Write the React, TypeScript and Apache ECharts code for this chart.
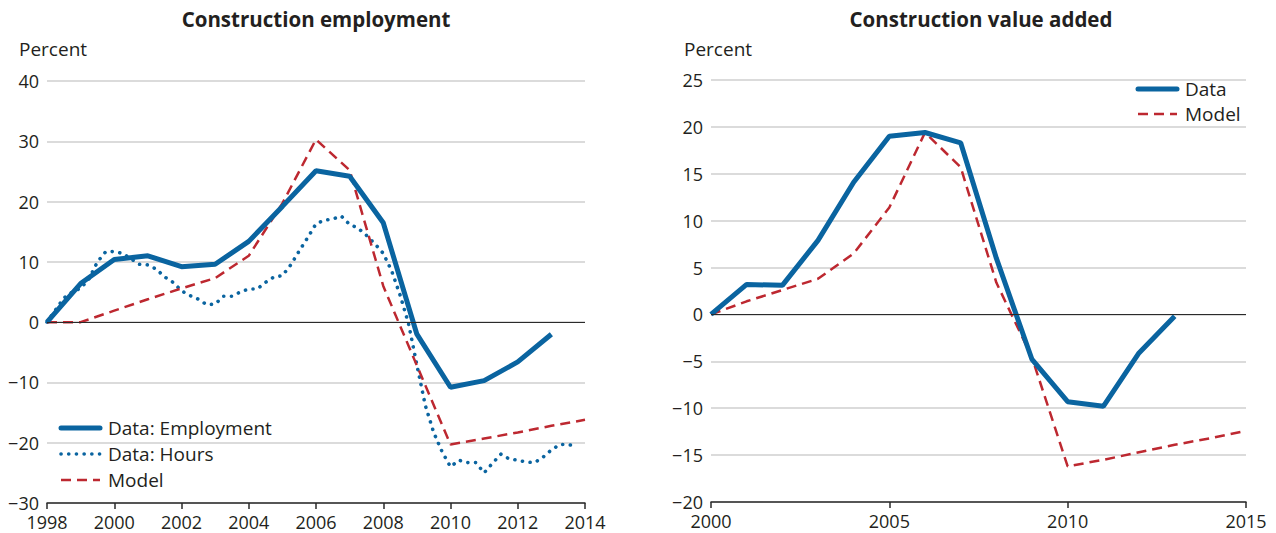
import React, { useEffect, useRef } from "react";
import * as echarts from "echarts";

// ---- Left panel: Construction employment ----
const empYears = [1998, 1999, 2000, 2001, 2002, 2003, 2004, 2005, 2006, 2007, 2008, 2009, 2010, 2011, 2012, 2013];
const employment = [0, 6.4, 10.4, 11.0, 9.2, 9.6, 13.4, 19.2, 25.1, 24.2, 16.5, -2.0, -10.8, -9.7, -6.6, -2.0];

const hoursQuarters = [
  "1998Q1", "1998Q2", "1998Q3", "1998Q4", "1999Q1", "1999Q2", "1999Q3", "1999Q4",
  "2000Q1", "2000Q2", "2000Q3", "2000Q4", "2001Q1", "2001Q2", "2001Q3", "2001Q4",
  "2002Q1", "2002Q2", "2002Q3", "2002Q4", "2003Q1", "2003Q2", "2003Q3", "2003Q4",
  "2004Q1", "2004Q2", "2004Q3", "2004Q4", "2005Q1", "2005Q2", "2005Q3", "2005Q4",
  "2006Q1", "2006Q2", "2006Q3", "2006Q4", "2007Q1", "2007Q2", "2007Q3", "2007Q4",
  "2008Q1", "2008Q2", "2008Q3", "2008Q4", "2009Q1", "2009Q2", "2009Q3", "2009Q4",
  "2010Q1", "2010Q2", "2010Q3", "2010Q4", "2011Q1", "2011Q2", "2011Q3", "2011Q4",
  "2012Q1", "2012Q2", "2012Q3", "2012Q4", "2013Q1", "2013Q2", "2013Q3", "2013Q4",
];
const hours = [
  0, 2.0, 4.0, 5.0, 5.6, 7.2, 10.0, 11.7,
  11.7, 11.4, 10.5, 9.6, 9.5, 8.8, 7.5, 6.6,
  5.2, 4.4, 3.8, 2.9, 3.0, 4.3, 4.3, 5.0,
  5.5, 5.5, 6.6, 7.5, 7.7, 9.5, 11.8, 14.0,
  16.3, 16.9, 17.1, 17.6, 16.2, 15.6, 14.4, 13.0,
  11.4, 8.5, 4.5, -0.2, -7.1, -13.8, -18.3, -21.5,
  -24.0, -22.9, -23.3, -23.3, -25.0, -23.4, -21.9, -22.7,
  -22.9, -23.2, -23.3, -22.4, -21.2, -20.3, -20.3, -20.6,
];

const modelLeftYears = [1998, 1999, 2000, 2001, 2002, 2003, 2004, 2005, 2006, 2007, 2008, 2009, 2010, 2011, 2012, 2013, 2014];
const modelLeft = [0, 0, 1.9, 3.8, 5.6, 7.3, 11.0, 19.7, 30.3, 25.2, 6.0, -7.2, -20.3, -19.3, -18.3, -17.2, -16.2];

const leftYTicks = { min: -30, max: 40, interval: 10 };
const leftXTicks = { min: 1998, max: 2014, interval: 2 };

// ---- Right panel: Construction value added ----
const vaYears = [2000, 2001, 2002, 2003, 2004, 2005, 2006, 2007, 2008, 2009, 2010, 2011, 2012, 2013];
const vaData = [0, 3.2, 3.1, 7.9, 14.1, 19.0, 19.4, 18.3, 6.0, -4.8, -9.3, -9.8, -4.1, -0.2];

const vaModelYears = [2000, 2001, 2002, 2003, 2004, 2005, 2006, 2007, 2008, 2009, 2010, 2011, 2012, 2013, 2014, 2015];
const vaModel = [0, 1.4, 2.6, 3.8, 6.5, 11.4, 19.4, 15.7, 3.4, -4.6, -16.2, -15.5, -14.7, -13.9, -13.2, -12.4];

const rightYTicks = { min: -20, max: 25, interval: 5 };
const rightXTicks = { min: 2000, max: 2015, interval: 5 };

const titles = ["Construction employment", "Construction value added"];
const unitLabel = "Percent";
const leftLegend = ["Data: Employment", "Data: Hours", "Model"];
const rightLegend = ["Data", "Model"];

const BLUE = "#0a64a0";
const RED = "#bd2830";
const TEXT = "#231f20";
const GRID = "#cfcfcf";
const FONT = "'Open Sans', sans-serif";
const FS = 19;
const AXFS = 18;

const quarterToX = (q: string) => {
  const y = parseInt(q.slice(0, 4), 10);
  const n = parseInt(q.slice(5), 10);
  return y + (n - 1) / 4;
};

const solidStyle = { stroke: BLUE, lineWidth: 5, lineCap: "round" };
const dottedStyle = { stroke: BLUE, lineWidth: 3.6, lineDash: [0.1, 7.6], lineCap: "round" };
const dashedStyle = { stroke: RED, lineWidth: 2.5, lineDash: [10, 6] };

function legendItems(x: number, y0: number, gap: number, labels: string[], styles: any[]) {
  const out: any[] = [];
  labels.forEach((lab, i) => {
    const y = y0 + i * gap;
    out.push({
      type: "line",
      silent: true,
      shape: { x1: x, y1: y, x2: x + 39, y2: y },
      style: styles[i],
    });
    out.push({
      type: "text",
      x: x + 47,
      y,
      style: { text: lab, fill: TEXT, font: `${FS}px ${FONT}`, textVerticalAlign: "middle", verticalAlign: "middle" },
    });
  });
  return out;
}

export default function App() {
  const ref = useRef<HTMLDivElement>(null);
  useEffect(() => {
    if (!ref.current) return;
    const chart = echarts.init(ref.current, undefined, { renderer: "svg" });

    const zeroLine = {
      silent: true,
      symbol: ["none", "none"],
      label: { show: false },
      lineStyle: { color: "#2a2a2a", width: 1.2, type: "solid" },
      data: [{ yAxis: 0 }],
    };

    const xAxisBase = (t: { min: number; max: number; interval: number }) => ({
      type: "value",
      min: t.min,
      max: t.max,
      interval: t.interval,
      axisLine: { show: true, onZero: false, lineStyle: { color: "#2a2a2a", width: 1.5 } },
      axisTick: { show: true, inside: false, length: 6, lineStyle: { color: "#2a2a2a", width: 1.5 } },
      splitLine: { show: false },
      axisLabel: {
        color: TEXT,
        fontSize: AXFS,
        lineHeight: AXFS,
        fontFamily: FONT,
        margin: 10,
        formatter: (v: number) => String(v),
      },
    });
    const yAxisBase = (t: { min: number; max: number; interval: number }) => ({
      type: "value",
      min: t.min,
      max: t.max,
      interval: t.interval,
      axisLine: { show: false },
      axisTick: { show: false },
      splitLine: { show: true, lineStyle: { color: GRID, width: 1.5 } },
      axisLabel: {
        color: TEXT,
        fontSize: AXFS,
        lineHeight: AXFS,
        fontFamily: FONT,
        margin: 8,
        formatter: (v: number) => (v < 0 ? "\u2212" + Math.abs(v) : String(v)),
      },
    });

    chart.setOption({
      animation: false,
      backgroundColor: "#ffffff",
      textStyle: { fontFamily: FONT },
      grid: [
        { left: 47, top: 81, width: 538, height: 422 },
        { left: 711, top: 80, width: 535, height: 422 },
      ],
      xAxis: [
        { ...xAxisBase(leftXTicks), gridIndex: 0 },
        { ...xAxisBase(rightXTicks), gridIndex: 1 },
      ],
      yAxis: [
        { ...yAxisBase(leftYTicks), gridIndex: 0 },
        { ...yAxisBase(rightYTicks), gridIndex: 1 },
      ],
      graphic: [
        {
          type: "text",
          x: 316,
          y: 19,
          style: { text: titles[0], fill: TEXT, font: `bold 20.5px ${FONT}`, textAlign: "center", textVerticalAlign: "middle", verticalAlign: "middle" },
        },
        {
          type: "text",
          x: 981,
          y: 19,
          style: { text: titles[1], fill: TEXT, font: `bold 20.5px ${FONT}`, textAlign: "center", textVerticalAlign: "middle", verticalAlign: "middle" },
        },
        {
          type: "text",
          x: 19,
          y: 49,
          style: { text: unitLabel, fill: TEXT, font: `${FS}px ${FONT}`, textVerticalAlign: "middle", verticalAlign: "middle" },
        },
        {
          type: "text",
          x: 684,
          y: 49,
          style: { text: unitLabel, fill: TEXT, font: `${FS}px ${FONT}`, textVerticalAlign: "middle", verticalAlign: "middle" },
        },
        ...legendItems(61, 428, 26, leftLegend, [solidStyle, dottedStyle, dashedStyle]),
        ...legendItems(1138, 89, 25, rightLegend, [solidStyle, dashedStyle]),
      ],
      series: [
        {
          name: "Data: Hours",
          type: "line",
          xAxisIndex: 0,
          yAxisIndex: 0,
          showSymbol: false,
          symbol: "none",
          data: hoursQuarters.map((q, i) => [quarterToX(q), hours[i]]),
          lineStyle: { color: BLUE, width: 3.6, type: [0.1, 7.6], cap: "round" },
          itemStyle: { color: BLUE },
          z: 2,
        },
        {
          name: "Model",
          type: "line",
          xAxisIndex: 0,
          yAxisIndex: 0,
          showSymbol: false,
          symbol: "none",
          data: modelLeftYears.map((y, i) => [y, modelLeft[i]]),
          lineStyle: { color: RED, width: 2.5, type: [10, 6] },
          itemStyle: { color: RED },
          z: 3,
          markLine: zeroLine,
        },
        {
          name: "Data: Employment",
          type: "line",
          xAxisIndex: 0,
          yAxisIndex: 0,
          showSymbol: false,
          symbol: "none",
          data: empYears.map((y, i) => [y, employment[i]]),
          lineStyle: { color: BLUE, width: 5 },
          itemStyle: { color: BLUE },
          z: 4,
        },
        {
          name: "Model (value added)",
          type: "line",
          xAxisIndex: 1,
          yAxisIndex: 1,
          showSymbol: false,
          symbol: "none",
          data: vaModelYears.map((y, i) => [y, vaModel[i]]),
          lineStyle: { color: RED, width: 2.5, type: [10, 6] },
          itemStyle: { color: RED },
          z: 3,
          markLine: zeroLine,
        },
        {
          name: "Data (value added)",
          type: "line",
          xAxisIndex: 1,
          yAxisIndex: 1,
          showSymbol: false,
          symbol: "none",
          data: vaYears.map((y, i) => [y, vaData[i]]),
          lineStyle: { color: BLUE, width: 5 },
          itemStyle: { color: BLUE },
          z: 4,
        },
      ],
    });
    return () => chart.dispose();
  }, []);
  return (
    <div
      ref={ref}
      style={{ position: "fixed", left: 0, top: 0, width: 1276, height: 533, background: "#fff" }}
    />
  );
}
